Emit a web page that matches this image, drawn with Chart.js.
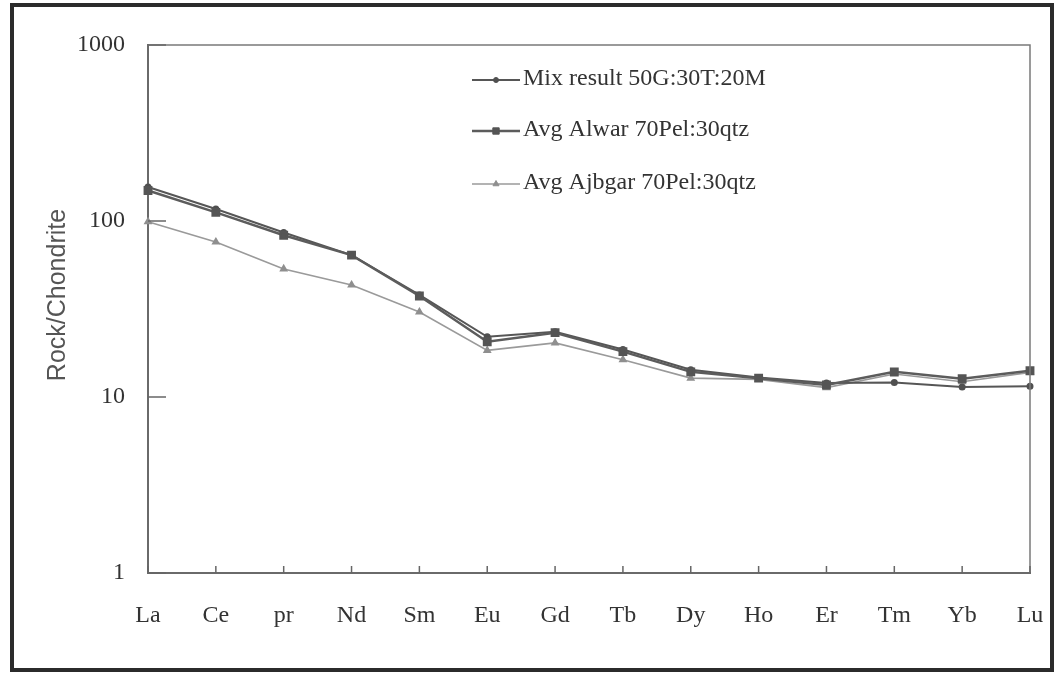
<!DOCTYPE html>
<html>
<head>
<meta charset="utf-8">
<title>REE pattern, Rock/Chondrite</title>
<script src="https://cdn.jsdelivr.net/npm/chart.js@4/dist/chart.umd.min.js"></script>
<style>
  html, body { margin: 0; padding: 0; background: #ffffff; }
  #wrap { position: relative; width: 1055px; height: 674px; }
</style>
</head>
<body>
<div id="wrap"><canvas id="ree" width="1055" height="674"></canvas></div>
<script>
// Rare earth elements along the x axis
const elements = ['La', 'Ce', 'pr', 'Nd', 'Sm', 'Eu', 'Gd', 'Tb', 'Dy', 'Ho', 'Er', 'Tm', 'Yb', 'Lu'];

// Chondrite-normalised values for each mixture
const mixResult = [156, 117, 86, 64, 38, 22, 23.5, 18.6, 14.3, 12.9, 12.0, 12.1, 11.4, 11.5];
const avgAlwar  = [149, 112, 83, 64, 37.5, 20.6, 23.2, 18.1, 13.9, 12.8, 11.7, 13.9, 12.7, 14.1];
const avgAjbgar = [99, 76, 53.4, 43.3, 30.4, 18.4, 20.3, 16.3, 12.8, 12.6, 11.3, 13.5, 12.2, 13.8];

// Series names
const seriesNames = ['Mix result 50G:30T:20M', 'Avg Alwar 70Pel:30qtz', 'Avg Ajbgar 70Pel:30qtz'];

// Log-axis tick values
const yTicks = [1, 10, 100, 1000];

const serif = '"Liberation Serif", "Times New Roman", serif';
const textColor = '#333333';

// Outer frame, plot box, inward tick marks, axis title and legend
const decorations = {
  id: 'decorations',
  afterDraw(chart) {
    const ctx = chart.ctx;
    const a = chart.chartArea;
    const xs = chart.scales.x;
    const ys = chart.scales.y;
    ctx.save();

    // plot box top and right edges
    ctx.strokeStyle = '#7a7a7a';
    ctx.lineWidth = 1.5;
    ctx.beginPath();
    ctx.moveTo(a.left, a.top);
    ctx.lineTo(a.right, a.top);
    ctx.lineTo(a.right, a.bottom);
    ctx.stroke();

    // inward ticks on the category axis
    ctx.strokeStyle = '#666666';
    ctx.lineWidth = 1.5;
    xs.ticks.forEach((t, i) => {
      const x = xs.getPixelForTick(i);
      ctx.beginPath();
      ctx.moveTo(x, a.bottom);
      ctx.lineTo(x, a.bottom - 7);
      ctx.stroke();
    });
    // inward ticks on the value axis
    ys.ticks.forEach(t => {
      const y = ys.getPixelForValue(t.value);
      ctx.beginPath();
      ctx.moveTo(a.left, y);
      ctx.lineTo(a.left + 18, y);
      ctx.stroke();
    });

    // y axis title
    ctx.fillStyle = '#555555';
    ctx.font = '25px "Liberation Sans", Arial, sans-serif';
    ctx.textAlign = 'center';
    ctx.textBaseline = 'middle';
    ctx.translate(58, 295);
    ctx.rotate(-Math.PI / 2);
    ctx.fillText('Rock/Chondrite', 0, 0);
    ctx.setTransform(1, 0, 0, 1, 0, 0);

    // legend inside the plot area
    const lx = 472, lw = 48, rows = [80, 131, 184];
    chart.data.datasets.forEach((ds, i) => {
      const y = rows[i];
      ctx.strokeStyle = ds.borderColor;
      ctx.lineWidth = ds.borderWidth;
      ctx.beginPath();
      ctx.moveTo(lx, y);
      ctx.lineTo(lx + lw, y);
      ctx.stroke();
      const cx = lx + lw / 2;
      ctx.fillStyle = ds.pointBackgroundColor;
      ctx.strokeStyle = ds.pointBorderColor;
      ctx.lineWidth = 1;
      Chart.helpers.drawPoint(ctx, {
        pointStyle: ds.pointStyle, radius: ds.pointRadius, rotation: 0, borderWidth: 1
      }, cx, y);
      ctx.fillStyle = textColor;
      ctx.font = '24px ' + serif;
      ctx.textAlign = 'left';
      ctx.textBaseline = 'middle';
      ctx.fillText(ds.label, lx + lw + 3, y - 1);
    });

    // outer frame
    ctx.strokeStyle = '#2b2b2b';
    ctx.lineWidth = 4;
    ctx.strokeRect(12, 5, 1040, 665);
    ctx.restore();
  }
};

new Chart(document.getElementById('ree'), {
  type: 'line',
  data: {
    labels: elements,
    datasets: [
      {
        label: seriesNames[0],
        data: mixResult,
        borderColor: '#565656',
        backgroundColor: '#565656',
        borderWidth: 2,
        pointStyle: 'circle',
        pointRadius: 2.5,
        pointBackgroundColor: '#505050',
        pointBorderColor: '#505050',
        order: 2
      },
      {
        label: seriesNames[1],
        data: avgAlwar,
        borderColor: '#5c5c5c',
        backgroundColor: '#5c5c5c',
        borderWidth: 2.5,
        pointStyle: 'rect',
        pointRadius: 4.5,
        pointBackgroundColor: '#555555',
        pointBorderColor: '#555555',
        order: 1
      },
      {
        label: seriesNames[2],
        data: avgAjbgar,
        borderColor: '#9a9a9a',
        backgroundColor: '#9a9a9a',
        borderWidth: 1.6,
        pointStyle: 'triangle',
        pointRadius: 3.5,
        pointBackgroundColor: '#8f8f8f',
        pointBorderColor: '#8f8f8f',
        order: 3
      }
    ]
  },
  options: {
    responsive: false,
    animation: false,
    clip: false,
    layout: { padding: { left: 0, right: 25, top: 45, bottom: 0 } },
    plugins: { legend: { display: false }, tooltip: { enabled: false } },
    elements: { line: { tension: 0 } },
    scales: {
      x: {
        type: 'category',
        offset: false,
        grid: { display: false, drawTicks: false },
        border: { display: true, color: '#6a6a6a', width: 2 },
        ticks: {
          padding: 28,
          color: textColor,
          font: { family: serif, size: 24 },
          maxRotation: 0,
          autoSkip: false
        },
        afterFit(scale) {
          scale.height = 101;
          scale.paddingLeft = 0;
          scale.paddingRight = 0;
        }
      },
      y: {
        type: 'logarithmic',
        min: 1,
        max: 1000,
        grid: { display: false, drawTicks: false },
        border: { display: true, color: '#6a6a6a', width: 2 },
        ticks: {
          padding: 23,
          color: textColor,
          font: { family: serif, size: 24 },
          callback: v => String(v)
        },
        afterBuildTicks(scale) { scale.ticks = yTicks.map(v => ({ value: v })); },
        afterFit(scale) {
          scale.width = 148;
          scale.paddingTop = 0;
          scale.paddingBottom = 0;
        }
      }
    }
  },
  plugins: [decorations]
});
</script>
</body>
</html>
